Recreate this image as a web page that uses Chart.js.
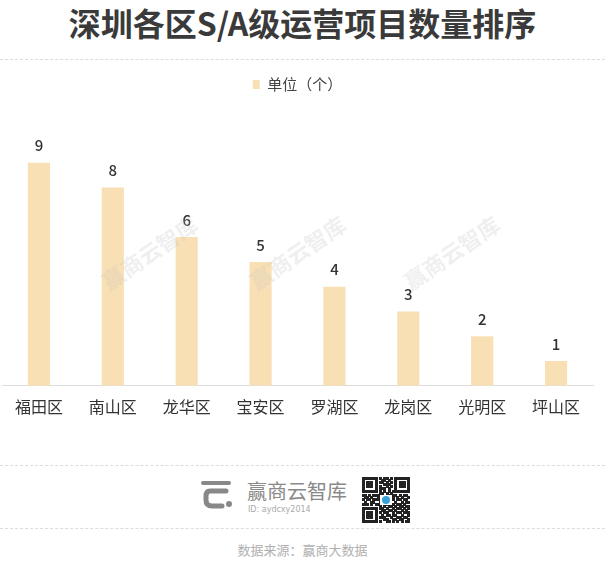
<!DOCTYPE html>
<html>
<head>
<meta charset="utf-8">
<style>
    body { margin: 0; width: 605px; height: 567px; background: #fff; font-family: "Noto Sans CJK SC", "Noto Sans", sans-serif; position: relative; overflow: hidden; }
    .title { position: absolute; top: 0; left: 0; width: 605px; text-align: center; font-size: 32px; font-weight: bold; color: #3a3a3a; line-height: 44px; }
    .dash { position: absolute; left: 0; width: 605px; border-top: 1px dashed #dcdcdc; }
    .chart-box { position: absolute; top: 60px; left: 0; width: 605px; height: 375px; }
    .logo-text { position: absolute; left: 247px; top: 476px; font-size: 20px; color: #8a8a8a; }
    .logo-id { position: absolute; left: 248px; top: 505px; font-size: 8px; color: #aaa; font-family: "DejaVu Sans", sans-serif; }
    .source { position: absolute; top: 540px; left: 0; width: 605px; text-align: center; font-size: 13px; color: #b0b0b0; }
</style>
</head>
<body>
<div class="title">深圳各区S/A级运营项目数量排序</div>
<div class="dash" style="top:59px"></div>
<div class="chart-box"><canvas id="myChart" width="605" height="375"></canvas></div>
<div class="dash" style="top:465px"></div>

<svg style="position:absolute;left:200px;top:478px" width="38" height="32" viewBox="0 0 38 32">
    <rect x="1" y="3" width="30" height="4" rx="2" fill="#888"/>
    <path d="M26 13 H10 Q6 13 6 18 V22 Q6 28 12 28 H22" stroke="#888" stroke-width="5" fill="none" stroke-linecap="round"/>
    <circle cx="29" cy="26" r="3" fill="#888"/>
</svg>
<div class="logo-text">赢商云智库</div>
<div class="logo-id">ID: aydcxy2014</div>
<canvas id="qr" width="48" height="48" style="position:absolute;left:362px;top:477px"></canvas>
<div class="dash" style="top:528px"></div>
<div class="source">数据来源：赢商大数据</div>

<script src="https://cdn.jsdelivr.net/npm/chart.js"></script>
<script>

    const districts = ['福田区', '南山区', '龙华区', '宝安区', '罗湖区', '龙岗区', '光明区', '坪山区'];
    const projectCounts = [9, 8, 6, 5, 4, 3, 2, 1];
    const seriesName = '单位（个）';

    const barColor = '#f8e0b4';

    // extra gap under the legend
    const legendGap = {
        id: 'legendGap',
        beforeInit(chart) {
            const origFit = chart.legend.fit;
            chart.legend.fit = function () {
                origFit.bind(chart.legend)();
                this.height += 36;
            };
        }
    };

    // value labels above each bar
    const valueLabels = {
        id: 'valueLabels',
        afterDatasetsDraw(chart) {
            const c = chart.ctx;
            const meta = chart.getDatasetMeta(0);
            c.save();
            c.font = '500 15px "Noto Sans CJK SC", sans-serif';
            c.fillStyle = '#333';
            c.textAlign = 'center';
            c.textBaseline = 'middle';
            meta.data.forEach((bar, i) => {
                c.fillText(String(projectCounts[i]), bar.x, bar.y - 17);
            });
            c.restore();
        }
    };

    // faint watermark text
    const watermark = {
        id: 'watermark',
        afterDatasetsDraw(chart) {
            const c = chart.ctx;
            c.save();
            c.font = 'bold 22px "Noto Sans CJK SC", sans-serif';
            c.fillStyle = 'rgba(190,190,190,0.25)';
            c.textAlign = 'center';
            c.textBaseline = 'middle';
            [150, 298, 452].forEach(x => {
                c.save();
                c.translate(x, 193);
                c.rotate(-0.6);
                c.fillText('赢商云智库', 0, 0);
                c.restore();
            });
            c.restore();
        }
    };

    const ctx = document.getElementById('myChart').getContext('2d');
    new Chart(ctx, {
        type: 'bar',
        data: {
            labels: districts,
            datasets: [{
                label: seriesName,
                data: projectCounts,
                backgroundColor: barColor,
                categoryPercentage: 1,
                barPercentage: 0.3
            }]
        },
        options: {
            responsive: false,
            animation: false,
            layout: { padding: { top: 7, left: 2, right: 12, bottom: 14 } },
            plugins: {
                legend: {
                    labels: {
                        boxWidth: 7,
                        boxHeight: 9,
                        color: '#444',
                        padding: 10,
                        font: { size: 15, family: '"Noto Sans CJK SC", sans-serif' }
                    }
                },
                tooltip: { enabled: false }
            },
            scales: {
                x: {
                    grid: { display: false },
                    border: { color: '#dddddd' },
                    ticks: {
                        color: '#333',
                        padding: 4,
                        font: { size: 16, family: '"Noto Sans CJK SC", sans-serif' }
                    }
                },
                y: {
                    display: false,
                    min: 0,
                    max: 10
                }
            }
        },
        plugins: [legendGap, valueLabels, watermark]
    });

    // small QR-like block for the footer
    (function drawQr() {
        const q = document.getElementById('qr').getContext('2d');
        const rows = [
            '1111111010110101111111',
            '1000001001101001000001',
            '1011101011010101011101',
            '1011101000111001011101',
            '1011101010010101011101',
            '1000001011101001000001',
            '1111111010101011111111',
            '0000000011010100000000',
            '1101011110011011010110',
            '0110100101100110101001',
            '1011011100111010110110',
            '0100110011011001001011',
            '1110101100110110110100',
            '0000000010101101011011',
            '1111111011010010110101',
            '1000001001101101001010',
            '1011101010110010110111',
            '1011101001011011001001',
            '1011101011100100110110',
            '1000001000110011011001',
            '1111111010011010101011',
            '0000000000000000000000'
        ];
        const s = 48 / 22;
        q.fillStyle = '#222';
        rows.forEach((r, y) => {
            for (let x = 0; x < r.length; x++) {
                if (r[x] === '1') q.fillRect(Math.floor(x * s), Math.floor(y * s), Math.ceil(s), Math.ceil(s));
            }
        });
        q.fillStyle = '#fff';
        q.fillRect(18, 18, 12, 10);
        q.fillStyle = '#3aa0d8';
        q.beginPath();
        q.arc(24, 23, 4, 0, Math.PI * 2);
        q.fill();
    })();

</script>
</body>
</html>
